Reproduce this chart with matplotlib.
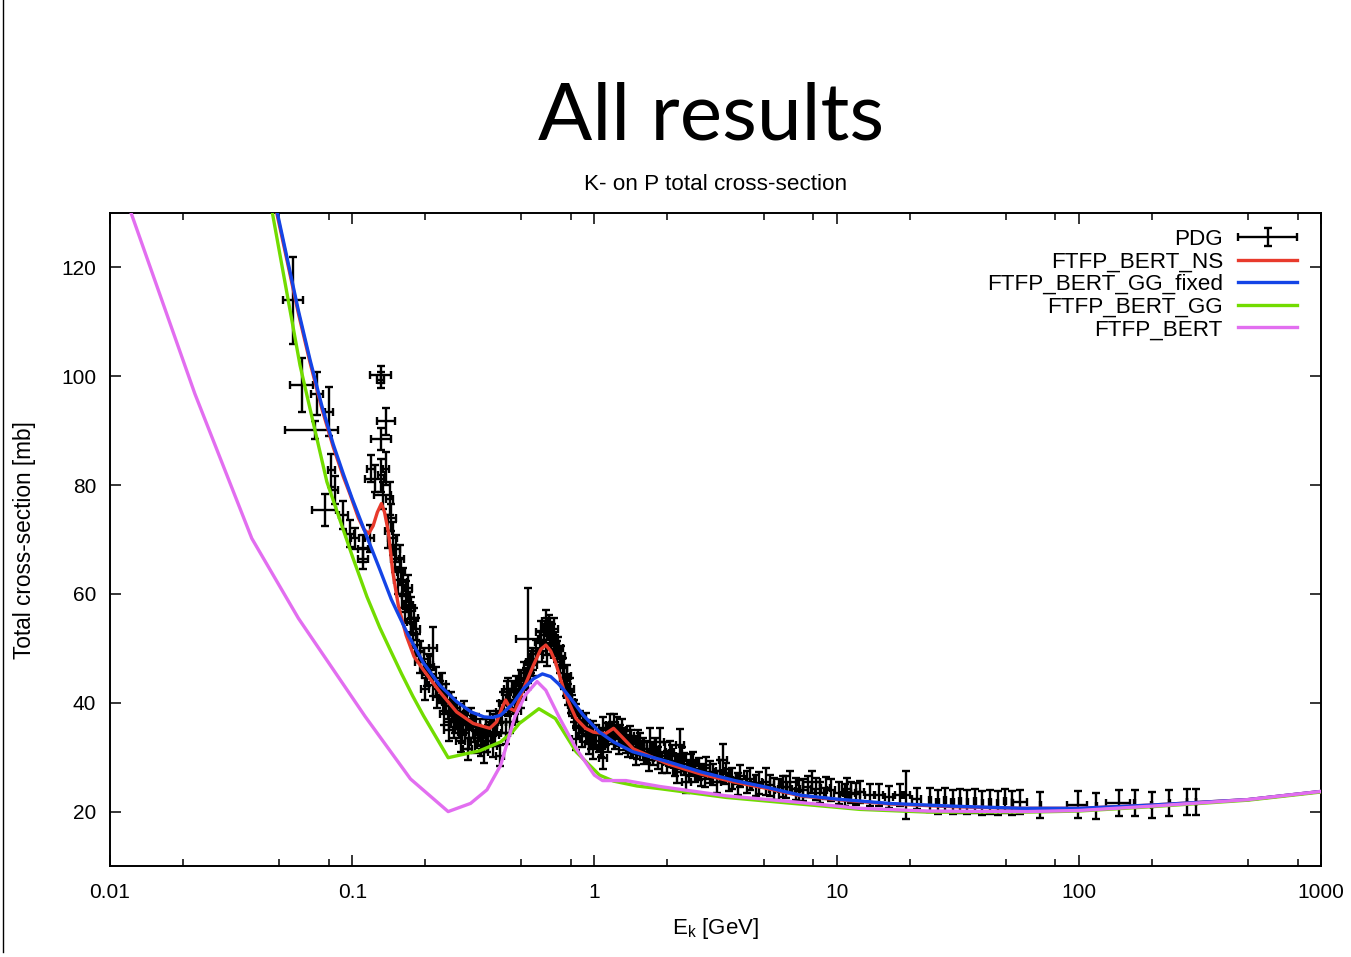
import numpy as np
import matplotlib.pyplot as plt
from matplotlib.lines import Line2D
from matplotlib.legend_handler import HandlerErrorbar
from matplotlib.container import ErrorbarContainer
from matplotlib.ticker import FixedLocator, NullFormatter

plt.rcParams['font.family'] = ['Liberation Sans', 'DejaVu Sans']
plt.rcParams['mathtext.fontset'] = 'custom'
plt.rcParams['mathtext.rm'] = 'Liberation Sans'
plt.rcParams['mathtext.it'] = 'Liberation Sans:italic'

# PDG K- p total cross-section measurements: E_k [GeV], sigma [mb], errors
pdg_e = [
    0.0571, 0.0620, 0.0716, 0.0700, 0.0804, 0.0770, 0.0821, 0.0847, 0.0918, 0.0979,
    0.1026, 0.1110, 0.1110, 0.1180, 0.1200, 0.1320, 0.1310, 0.1380, 0.1320, 0.1240,
    0.1320, 0.1380, 0.1340, 0.1430, 0.1410, 0.1470, 0.1520, 0.1570, 0.1590, 0.1620,
    0.1670, 0.1710, 0.1650, 0.1750, 0.2160, 0.1800, 0.1780, 0.1850, 0.1900, 0.1900,
    0.1970, 0.2030, 0.2100, 0.2160, 0.2220, 0.2300, 0.2370, 0.2450, 0.2450, 0.2520,
    0.2500, 0.2600, 0.2650, 0.2700, 0.2780, 0.2800, 0.2850, 0.2900, 0.2960, 0.3000,
    0.3050, 0.3160, 0.3200, 0.3300, 0.3370, 0.3400, 0.3500, 0.3580, 0.3600, 0.3700,
    0.3800, 0.3820, 0.3900, 0.4070, 0.4070, 0.4200, 0.4300, 0.4340, 0.4400, 0.4500,
    0.4500, 0.4640, 0.4700, 0.4800, 0.4900, 0.5000, 0.5200, 0.5300, 0.5300, 0.5600,
    0.5600, 0.5940, 0.6100, 0.6200, 0.6400, 0.6400, 0.6500, 0.6600, 0.6700, 0.6900,
    0.7000, 0.7200, 0.7400, 0.7500, 0.7600, 0.7800, 0.8000, 0.8200, 0.8400, 0.8400,
    0.8700, 0.9000, 0.9300, 0.9500, 0.9900, 0.9900, 1.0400, 1.0900, 1.0900, 1.1200,
    1.1600, 1.2000, 1.2400, 1.2800, 1.3200, 1.3500, 1.4000, 1.4500, 1.5000, 1.5500,
    1.6000, 1.7000, 1.7500, 1.8300, 1.8600, 1.9500, 2.0000, 2.1000, 2.2000, 2.2500,
    2.3500, 2.4000, 2.5000, 2.6000, 2.7500, 2.9000, 3.0000, 3.2000, 3.4000, 3.5000,
    3.7000, 4.0000, 4.2500, 4.6500, 5.1000, 5.5000, 6.0000, 6.4000, 6.8000, 7.3000,
    7.9000, 8.5000, 9.5000, 10.200, 11.000, 12.000, 12.500, 13.700, 15.000, 16.500,
    18.200, 19.400, 21.400, 24.300, 26.100, 28.000, 30.100, 32.300, 34.700, 37.300,
    40.000, 43.000, 46.200, 49.600, 53.200, 57.200, 69.400, 99.000, 118.00, 146.00,
    170.00, 200.00, 236.00, 280.00, 305.00,
    0.1450, 0.1500, 0.1550, 0.1600, 0.1700, 0.1750, 0.1830, 0.2000, 0.2070, 0.2250,
    0.2350, 0.2400, 0.2550, 0.2620, 0.2750, 0.2880, 0.3100, 0.3250, 0.3450, 0.3650,
    0.3950, 0.4150, 0.4400, 0.4750, 0.5000, 0.5100, 0.5450, 0.5750, 0.6000, 0.6300,
    0.6550, 0.6800, 0.7100, 0.7300, 0.7700, 0.7900, 0.8100, 0.8600, 0.8900, 0.9200,
    0.9700, 1.0200, 1.0600, 1.1400, 1.1800, 1.2200, 1.2600, 1.3000, 1.3800, 1.4200,
    1.4800, 1.5200, 1.5800, 1.6500, 1.6800, 1.7800, 1.9000, 2.0500, 2.1500, 2.3000,
    2.4500, 2.5500, 2.7000, 2.8500, 3.1000, 3.3000, 3.6000, 3.9000, 4.4000, 4.8000,
    5.3000, 5.8000, 6.2000, 7.0000, 7.6000, 8.2000, 9.0000, 10.800, 11.500,
]
pdg_sig = [
    114.0, 98.4, 96.8, 90.1, 93.5, 75.4, 82.7, 79.1, 74.5, 71.1,
    70.2, 68.3, 66.5, 70.2, 83.0, 100.3, 99.3, 91.7, 88.4, 81.2,
    81.8, 83.0, 78.1, 77.5, 71.5, 70.2, 68.3, 66.5, 64.1, 62.2,
    59.8, 57.9, 56.7, 54.9, 50.0, 55.5, 52.5, 50.6, 49.4, 47.5,
    48.1, 45.1, 46.5, 43.2, 44.5, 42.0, 40.5, 40.2, 41.4, 38.5,
    35.0, 38.9, 36.5, 37.1, 37.7, 33.0, 34.6, 38.3, 36.5, 31.5,
    33.5, 35.6, 32.8, 34.0, 35.0, 32.2, 31.0, 35.0, 33.0, 36.5,
    32.0, 35.9, 34.0, 38.3, 30.3, 40.0, 34.5, 42.0, 39.5, 40.5,
    36.5, 42.0, 40.0, 38.5, 42.6, 44.0, 44.4, 45.7, 51.8, 46.9,
    48.1, 51.2, 49.5, 52.5, 53.6, 48.7, 54.2, 51.0, 52.4, 50.5,
    49.4, 47.5, 46.3, 44.5, 43.2, 41.5, 40.2, 38.5, 37.7, 33.4,
    36.5, 35.9, 34.8, 32.5, 34.6, 31.6, 33.0, 35.3, 29.8, 34.2,
    35.9, 36.0, 35.3, 34.0, 33.4, 32.8, 33.8, 31.8, 31.6, 32.4,
    30.8, 32.8, 30.5, 29.8, 32.8, 30.8, 29.1, 30.2, 27.3, 32.2,
    28.8, 25.5, 28.5, 27.5, 26.7, 28.0, 27.3, 25.5, 29.4, 27.0,
    26.1, 26.5, 25.5, 24.8, 25.5, 24.2, 24.6, 25.5, 24.2, 24.0,
    25.5, 23.5, 23.9, 23.4, 24.2, 23.2, 23.6, 23.0, 23.0, 22.7,
    23.0, 23.0, 22.4, 22.2, 21.8, 22.1, 21.7, 22.0, 21.8, 21.9,
    21.6, 21.8, 21.6, 21.9, 21.5, 21.7, 21.2, 21.3, 21.0, 21.5,
    21.5, 21.2, 21.5, 21.8, 21.8,
    74.0, 66.5, 62.5, 60.0, 61.0, 57.5, 53.5, 42.5, 47.0, 41.0,
    43.5, 38.0, 40.0, 35.5, 35.5, 36.0, 37.0, 36.0, 33.5, 34.0,
    36.5, 36.5, 42.5, 43.0, 41.0, 45.5, 47.5, 49.5, 53.0, 55.0,
    52.8, 53.5, 50.0, 48.5, 45.0, 42.5, 39.5, 35.5, 33.8, 36.2,
    33.5, 34.0, 32.0, 33.0, 34.5, 33.5, 32.5, 35.0, 32.0, 33.0,
    30.5, 33.0, 31.5, 31.0, 29.5, 31.5, 29.0, 31.0, 28.5, 29.8,
    27.5, 29.0, 27.8, 26.5, 26.8, 27.5, 25.8, 25.0, 26.0, 25.2,
    24.8, 23.9, 24.5, 23.8, 24.6, 24.2, 24.4, 23.0, 23.5,
]
pdg_de = [
    0.0055, 0.0068, 0.0040, 0.0170, 0.0030, 0.0085, 0.0030, 0.0030, 0.0040, 0.0040,
    0.0040, 0.0050, 0.0050, 0.0050, 0.0045, 0.0130, 0.0040, 0.0120, 0.0120, 0.0110,
    0.0040, 0.0040, 0.0110, 0.0050, 0.0050, 0.0060, 0.0060, 0.0060, 0.0060, 0.0060,
    0.0060, 0.0070, 0.0070, 0.0070, 0.0075, 0.0070, 0.0070, 0.0070, 0.0080, 0.0080,
    0.0080, 0.0080, 0.0080, 0.0090, 0.0090, 0.0090, 0.0090, 0.0100, 0.0100, 0.0100,
    0.0100, 0.0100, 0.0100, 0.0110, 0.0110, 0.0110, 0.0110, 0.0110, 0.0120, 0.0120,
    0.0120, 0.0120, 0.0120, 0.0130, 0.0130, 0.0130, 0.0130, 0.0140, 0.0140, 0.0140,
    0.0150, 0.0150, 0.0150, 0.0160, 0.0160, 0.0160, 0.0170, 0.0170, 0.0170, 0.0180,
    0.0180, 0.0180, 0.0180, 0.0190, 0.0190, 0.0200, 0.0200, 0.0200, 0.0550, 0.0220,
    0.0220, 0.0230, 0.0240, 0.0240, 0.0250, 0.0250, 0.0250, 0.0260, 0.0260, 0.0270,
    0.0270, 0.0280, 0.0290, 0.0290, 0.0300, 0.0300, 0.0310, 0.0320, 0.0330, 0.0330,
    0.0340, 0.0350, 0.0360, 0.0370, 0.0390, 0.0390, 0.0400, 0.0420, 0.0420, 0.0440,
    0.0450, 0.0470, 0.0480, 0.0500, 0.0510, 0.0530, 0.0550, 0.0570, 0.0590, 0.0600,
    0.0620, 0.1000, 0.0680, 0.0720, 0.0730, 0.0760, 0.0780, 0.0820, 0.0860, 0.0880,
    0.0920, 0.0940, 0.0980, 0.1000, 0.1100, 0.1100, 0.1200, 0.1300, 0.1300, 0.1400,
    0.1400, 0.1600, 0.1700, 0.1800, 0.2000, 0.2200, 0.2400, 0.5000, 0.2700, 0.2900,
    0.6000, 0.3400, 0.3800, 0.4000, 0.4400, 0.4800, 0.5000, 0.5500, 0.6000, 0.6600,
    0.7300, 0.7800, 0.8600, 0.3000, 0.3000, 0.3000, 0.3000, 0.3000, 0.3000, 0.3000,
    0.3000, 0.3000, 0.3000, 0.3000, 0.3000, 4.0000, 0.5000, 9.5000, 0.5000, 17.000,
    1.0000, 1.0000, 1.0000, 1.0000, 1.0000,
    0.0060, 0.0060, 0.0060, 0.0065, 0.0070, 0.0070, 0.0075, 0.0080, 0.0080, 0.0090,
    0.0095, 0.0095, 0.0100, 0.0105, 0.0110, 0.0115, 0.0125, 0.0130, 0.0140, 0.0145,
    0.0160, 0.0165, 0.0175, 0.0190, 0.0200, 0.0205, 0.0220, 0.0230, 0.0240, 0.0250,
    0.0260, 0.0270, 0.0285, 0.0290, 0.0310, 0.0315, 0.0325, 0.0345, 0.0355, 0.0370,
    0.0390, 0.0410, 0.0420, 0.0455, 0.0470, 0.0490, 0.0505, 0.0520, 0.0550, 0.0570,
    0.0590, 0.0610, 0.0630, 0.0660, 0.0670, 0.0710, 0.0760, 0.0820, 0.0860, 0.0920,
    0.0980, 0.1000, 0.1100, 0.1100, 0.1200, 0.1300, 0.1400, 0.1600, 0.1800, 0.1900,
    0.2100, 0.2300, 0.2500, 0.2800, 0.3000, 0.3300, 0.3600, 0.4300, 0.4600,
]
pdg_dsig = [
    8.0, 5.0, 4.0, 1.6, 4.5, 3.0, 3.0, 2.5, 2.5, 2.5,
    2.0, 2.5, 2.0, 2.5, 2.5, 1.5, 1.5, 2.5, 2.0, 2.5,
    3.0, 3.0, 2.5, 3.0, 3.0, 3.0, 2.5, 2.5, 2.5, 2.5,
    2.5, 2.5, 2.0, 2.0, 4.0, 2.0, 2.0, 2.0, 2.0, 2.0,
    2.0, 2.0, 2.0, 2.0, 2.0, 2.0, 2.0, 2.0, 2.0, 2.0,
    2.0, 2.0, 2.0, 2.0, 2.0, 2.0, 2.0, 2.0, 2.0, 2.0,
    2.0, 2.0, 2.0, 2.0, 2.0, 2.0, 2.0, 2.0, 2.0, 2.0,
    2.0, 2.0, 2.0, 2.0, 2.0, 2.0, 2.0, 2.0, 2.0, 2.0,
    2.0, 2.0, 2.0, 2.0, 2.0, 2.0, 2.0, 2.0, 9.2, 2.0,
    2.0, 2.0, 2.0, 2.0, 2.0, 2.0, 2.0, 2.0, 2.0, 2.0,
    2.0, 2.0, 2.0, 2.0, 2.0, 2.0, 2.0, 2.0, 2.0, 2.0,
    2.0, 2.0, 2.0, 2.0, 2.0, 2.0, 2.0, 2.0, 2.0, 2.0,
    2.0, 2.0, 2.0, 2.0, 2.0, 2.0, 2.0, 2.0, 2.0, 2.0,
    2.0, 2.5, 2.0, 2.0, 2.5, 2.0, 2.0, 2.0, 2.0, 3.0,
    2.0, 2.0, 2.0, 2.0, 2.0, 2.0, 2.0, 2.0, 3.0, 2.0,
    2.0, 2.0, 2.0, 2.0, 2.5, 2.0, 2.0, 2.0, 2.0, 2.0,
    2.0, 2.0, 2.0, 2.0, 2.0, 2.0, 2.0, 2.0, 2.0, 2.0,
    2.0, 4.4, 2.0, 2.2, 2.2, 2.2, 2.2, 2.2, 2.2, 2.2,
    2.2, 2.2, 2.2, 2.2, 2.2, 2.2, 2.4, 2.4, 2.4, 2.4,
    2.4, 2.4, 2.4, 2.4, 2.4,
    2.5, 2.5, 2.5, 2.5, 2.5, 2.0, 2.0, 2.0, 2.0, 2.0,
    2.0, 2.0, 2.0, 2.0, 2.0, 2.0, 2.0, 2.0, 2.0, 2.0,
    2.0, 2.0, 2.0, 2.0, 2.0, 2.0, 2.0, 2.0, 2.0, 2.0,
    2.0, 2.0, 2.0, 2.0, 2.0, 2.0, 2.0, 2.0, 2.0, 2.0,
    2.0, 2.0, 2.0, 2.0, 2.0, 2.0, 2.0, 2.0, 2.0, 2.0,
    2.0, 2.0, 2.0, 2.0, 2.0, 2.0, 2.0, 2.0, 2.0, 2.0,
    2.0, 2.0, 2.0, 2.0, 2.0, 2.0, 2.0, 2.0, 2.0, 2.0,
    2.0, 2.0, 2.0, 2.0, 2.0, 2.0, 2.0, 2.0, 2.0,
]

# Geant4 physics lists
ns_e = [0.048, 0.0528, 0.06, 0.067, 0.075, 0.0835, 0.092, 0.098, 0.106, 0.112,
        0.117, 0.122, 0.127, 0.132, 0.136, 0.141, 0.147, 0.155, 0.167, 0.18,
        0.197, 0.23, 0.27, 0.316, 0.37, 0.395, 0.415, 0.43, 0.45, 0.47,
        0.51, 0.56, 0.6, 0.63, 0.66, 0.69, 0.76, 0.84, 0.92, 0.99,
        1.11, 1.2, 1.32, 1.45, 2.0, 2.75, 3.8, 5.1, 7.1, 10.0,
        16.5, 30.0, 58.0, 100.0, 200.0, 500.0, 1000.0]
ns_sig = [131.5, 123.0, 111.5, 102.5, 94.0, 87.0, 81.5, 78.3, 74.0, 71.8,
          71.1, 72.5, 75.0, 76.6, 75.0, 71.4, 64.1, 57.9, 52.4, 48.5,
          46.0, 42.0, 38.3, 36.2, 35.3, 36.5, 39.0, 40.5, 38.9, 38.5,
          42.6, 46.9, 49.8, 50.6, 49.5, 47.5, 41.4, 37.1, 35.3, 34.6,
          34.3, 35.3, 33.4, 31.5, 28.8, 26.9, 25.4, 24.3, 22.9, 22.2,
          21.4, 20.9, 20.6, 20.6, 21.2, 22.2, 23.7]

ggfix_e = [0.048, 0.0528, 0.06, 0.067, 0.075, 0.0835, 0.092, 0.1, 0.115, 0.13,
           0.145, 0.17, 0.197, 0.23, 0.27, 0.31, 0.35, 0.38, 0.41, 0.46,
           0.51, 0.56, 0.61, 0.66, 0.71, 0.76, 0.83, 0.9, 1.05, 1.2,
           1.44, 2.0, 2.75, 3.8, 5.1, 7.1, 10.0, 16.5, 30.0, 58.0,
           100.0, 200.0, 500.0, 1000.0]
ggfix_sig = [132.0, 123.5, 112.0, 103.0, 94.5, 87.5, 82.0, 77.5, 70.5, 64.5,
             59.0, 52.5, 47.3, 43.2, 40.2, 38.3, 37.4, 37.3, 37.7, 39.8,
             42.6, 44.4, 45.3, 44.8, 43.5, 42.0, 39.8, 37.7, 34.6, 32.8,
             31.0, 29.2, 27.3, 25.7, 24.5, 23.0, 22.3, 21.5, 21.0, 20.6,
             20.6, 21.2, 22.2, 23.7]

gg_e = [0.04, 0.0467, 0.0609, 0.0786, 0.1, 0.115, 0.13, 0.145, 0.16, 0.178,
        0.197, 0.249, 0.337, 0.41, 0.46, 0.49, 0.59, 0.69, 0.84, 1.05,
        1.2, 1.5, 1.87, 3.5, 6.6, 12.5, 23.8, 61.0, 100.0, 200.0,
        500.0, 1000.0]
gg_sig = [147.0, 130.3, 102.0, 80.6, 67.0, 59.5, 53.8, 49.3, 45.3, 41.2,
          37.6, 29.9, 31.2, 32.8, 34.7, 36.2, 38.9, 37.1, 31.0, 26.7,
          25.6, 24.7, 24.2, 22.6, 21.5, 20.4, 19.9, 19.9, 20.1, 20.9,
          22.1, 23.6]

bert_e = [0.01, 0.0224, 0.0385, 0.060, 0.113, 0.174, 0.249, 0.308, 0.36, 0.41,
          0.47, 0.52, 0.58, 0.63, 0.72, 0.84, 1.0, 1.08, 1.35, 1.87,
          3.5, 6.6, 12.5, 23.8, 61.0, 100.0, 200.0, 500.0, 1000.0]
bert_sig = [141.0, 96.8, 70.2, 55.5, 37.5, 26.0, 20.0, 21.5, 24.0, 28.5,
            37.5, 41.5, 43.9, 42.3, 37.1, 31.6, 26.7, 25.7, 25.7, 24.6,
            22.9, 21.8, 20.6, 20.1, 20.0, 20.2, 21.0, 22.2, 23.7]

x_major = [0.01, 0.1, 1, 10, 100, 1000]
x_major_labels = ['0.01', '0.1', '1', '10', '100', '1000']
y_major = [20, 40, 60, 80, 100, 120]

fig = plt.figure(figsize=(13.51, 9.57), dpi=100)
ax = fig.add_axes([110 / 1351, 91 / 957, 1211 / 1351, 653 / 957])

pdg = ax.errorbar(pdg_e, pdg_sig, xerr=pdg_de, yerr=pdg_dsig, fmt='none',
                  ecolor='black', elinewidth=1.7, capsize=2.8, capthick=1.7,
                  zorder=2, label='PDG')
ns_line, = ax.plot(ns_e, ns_sig, color='#e83a2c', lw=2.4, zorder=3, label='FTFP_BERT_NS')
fix_line, = ax.plot(ggfix_e, ggfix_sig, color='#1444e6', lw=2.4, zorder=4, label='FTFP_BERT_GG_fixed')
gg_line, = ax.plot(gg_e, gg_sig, color='#72dc00', lw=2.4, zorder=5, label='FTFP_BERT_GG')
bert_line, = ax.plot(bert_e, bert_sig, color='#e26ef0', lw=2.4, zorder=6, label='FTFP_BERT')

ax.set_xscale('log')
ax.set_xlim(0.01, 1000)
ax.set_ylim(10, 130)
ax.xaxis.set_major_locator(FixedLocator(x_major))
ax.set_xticklabels(x_major_labels)
ax.xaxis.set_minor_locator(FixedLocator([m * d for d in [0.01, 0.1, 1, 10, 100] for m in (2, 5, 8)]))
ax.xaxis.set_minor_formatter(NullFormatter())
ax.set_yticks(y_major)
ax.tick_params(which='both', direction='in', top=True, right=True, width=1.1,
               labelsize=15, colors='black')
ax.tick_params(which='major', length=8)
ax.tick_params(which='minor', length=5)
ax.tick_params(axis='x', pad=12.5)
ax.tick_params(axis='y', pad=10)
for sp in ax.spines.values():
    sp.set_linewidth(1.4)

ax.set_xlabel('E$_\\mathregular{k}$ [GeV]', fontsize=16)
ax.xaxis.set_label_coords(0.5, -0.077)
fig.text(25 / 1351, 1 - 540 / 957, 'Total cross-section [mb]', rotation=90,
         ha='center', va='center', fontsize=16.3)

fig.text(716 / 1351, 1 - 184 / 957, 'K- on P total cross-section',
         ha='center', va='center', fontsize=16.2)
fig.text(711 / 1351, 1 - 140 / 957, 'All results', ha='center', va='baseline',
         fontsize=57.8, family='Lato')

# slide border on the left
fig.add_artist(Line2D([3 / 1351, 3 / 1351], [0.005, 1], transform=fig.transFigure,
                      color='black', lw=1.0))

ax.legend([pdg, ns_line, fix_line, gg_line, bert_line],
          ['PDG', 'FTFP_BERT_NS', 'FTFP_BERT_GG_fixed', 'FTFP_BERT_GG', 'FTFP_BERT'],
          loc='upper right', frameon=False, markerfirst=False,
          fontsize=16.2, handlelength=2.62, handletextpad=0.67, labelspacing=0.07,
          borderpad=0, borderaxespad=0,
          bbox_to_anchor=((1297 - 110) / 1211, (866 - 229) / 653),
          handler_map={ErrorbarContainer: HandlerErrorbar(xerr_size=1.31, yerr_size=0.4)})

fig.savefig('out.png', dpi=100)
